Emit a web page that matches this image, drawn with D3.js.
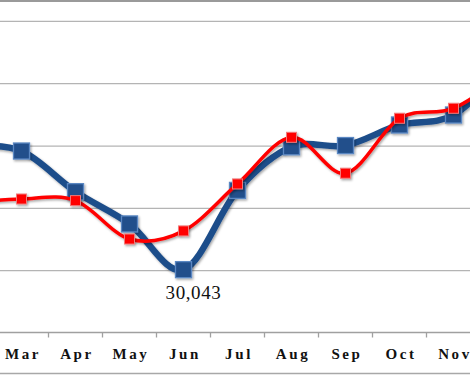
<!DOCTYPE html>
<html>
<head>
<meta charset="utf-8">
<script src="https://cdn.jsdelivr.net/npm/d3@7"></script>
<style>
  html, body { margin: 0; padding: 0; background: #fff; overflow: hidden; }
  svg { display: block; }
</style>
</head>
<body>
<svg id="chart" width="470" height="375"></svg>
<script>
const months = ["Feb", "Mar", "Apr", "May", "Jun", "Jul", "Aug", "Sep", "Oct", "Nov", "Dec"];
const seriesBlue = [40000, 39560, 36300, 33710, 30043, 36400, 39900, 40000, 41650, 42450, 46500];
const seriesRed  = [35390, 35710, 35580, 32500, 33150, 36920, 40660, 37780, 42190, 42990, 45800];
const yTicks = [25000, 30000, 35000, 40000, 45000, 50000];
const shownLabels = ["Mar", "Apr", "May", "Jun", "Jul", "Aug", "Sep", "Oct", "Nov"];
const labelIndex = 4; // Jun
const labelText = "30,043";

const svg = d3.select("#chart");
const W = 470, H = 375;
const step = 54;
const x = d3.scaleBand().domain(months)
  .range([-5.5 - step, -5.5 - step + months.length * step]).padding(0);
const cx = d => x(d) + x.bandwidth() / 2;
const y = d3.scaleLinear().domain([25000, 50000]).range([332.5, 20.9]);

const defs = svg.append("defs");
const f = defs.append("filter").attr("id", "sh").attr("x", "-50%").attr("y", "-50%").attr("width", "200%").attr("height", "200%");
f.append("feDropShadow").attr("dx", 1.2).attr("dy", 1.5).attr("stdDeviation", 1.2).attr("flood-color", "#000").attr("flood-opacity", 0.35);

// frame lines
svg.append("line").attr("x1", 0).attr("x2", W).attr("y1", 1).attr("y2", 1)
  .attr("stroke", "#9a9a9a").attr("stroke-width", 2);
svg.append("line").attr("x1", 0).attr("x2", W).attr("y1", 373.5).attr("y2", 373.5)
  .attr("stroke", "#a8a8a8").attr("stroke-width", 1.5);

// gridlines
const yAxisG = svg.append("g")
  .call(d3.axisLeft(y).tickValues(yTicks.slice(1)).tickSize(-W).tickFormat(""));
yAxisG.select(".domain").remove();
yAxisG.selectAll(".tick line").attr("stroke", "#b4b4b4").attr("stroke-width", 1.2);

// x axis
const xAxisG = svg.append("g").attr("transform", `translate(0,${y(25000)})`)
  .call(d3.axisBottom(x).tickValues(shownLabels).tickSize(0).tickPadding(16));
xAxisG.select(".domain").remove();
svg.append("line").attr("x1", 0).attr("x2", W).attr("y1", y(25000)).attr("y2", y(25000))
  .attr("stroke", "#a0a0a0").attr("stroke-width", 1.5);
xAxisG.selectAll(".tick text")
  .attr("font-family", "'Liberation Serif', 'DejaVu Serif', serif")
  .attr("font-weight", "bold").attr("font-size", 15)
  .attr("letter-spacing", "2.6px").attr("fill", "#111")
  .attr("dy", "0.71em").attr("dx", "1.5px");
// tick marks at band boundaries
svg.append("g").selectAll("line").data(months.slice(1)).join("line")
  .attr("x1", d => x(d)).attr("x2", d => x(d))
  .attr("y1", y(25000)).attr("y2", y(25000) + 5)
  .attr("stroke", "#a0a0a0").attr("stroke-width", 1.3);

const curve = d3.curveCardinal.tension(0);
const lineGen = d3.line().x((d, i) => cx(months[i])).y(d => y(d)).curve(curve);

// blue series
svg.append("path").datum(seriesBlue).attr("d", lineGen)
  .attr("fill", "none").attr("stroke", "#1f4e8a").attr("stroke-width", 6.5)
  .attr("stroke-linejoin", "round").attr("filter", "url(#sh)");
svg.append("g").selectAll("rect").data(seriesBlue).join("rect")
  .attr("x", (d, i) => cx(months[i]) - 8).attr("y", d => y(d) - 8)
  .attr("width", 16).attr("height", 16)
  .attr("fill", "#214f8b").attr("stroke", "#5a87c2").attr("stroke-width", 1.3)
  .attr("filter", "url(#sh)");

// red series
svg.append("path").datum(seriesRed).attr("d", lineGen)
  .attr("fill", "none").attr("stroke", "#ff0000").attr("stroke-width", 3.5)
  .attr("stroke-linejoin", "round").attr("filter", "url(#sh)");
svg.append("g").selectAll("rect").data(seriesRed).join("rect")
  .attr("x", (d, i) => cx(months[i]) - 5).attr("y", d => y(d) - 5)
  .attr("width", 10).attr("height", 10)
  .attr("fill", "#ff0000").attr("stroke", "#f27a7a").attr("stroke-width", 1)
  .attr("filter", "url(#sh)");

// data label
svg.append("text")
  .attr("x", cx(months[labelIndex]) + 10).attr("y", y(seriesBlue[labelIndex]) + 29)
  .attr("text-anchor", "middle")
  .attr("font-family", "'Liberation Serif', 'DejaVu Serif', serif")
  .attr("font-size", 19).attr("letter-spacing", "0.6px").attr("fill", "#111")
  .text(labelText);
</script>
</body>
</html>
